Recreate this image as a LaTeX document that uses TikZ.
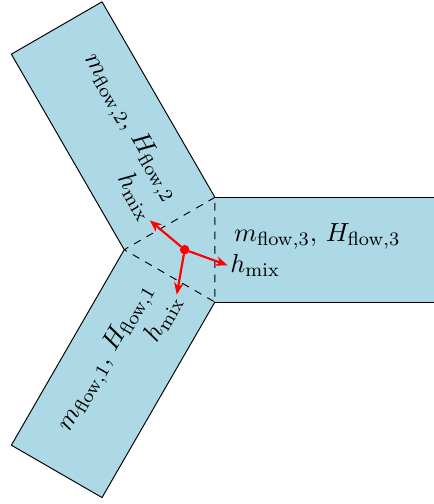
\documentclass[tikz,border=0pt,11pt]{standalone}
\usetikzlibrary{arrows.meta}
\definecolor{pipeblue}{RGB}{173,216,230}
\begin{document}
\begin{tikzpicture}[>={Stealth[length=5pt,width=4pt]}, line join=round, line cap=round,
	dot/.style={circle,fill=red,inner sep=0pt,minimum size=4pt},
	mix/.style={inner sep=1pt},
	arrow/.style={->,red,line width=0.9pt}]
	\def\w{1.54} \def\len{3.32} % width and length of a pipe
	\pgfmathsetmacro\r{\w/(2*sqrt(3))}
	\pgfmathsetmacro\R{\w/sqrt(3)}
	\clip (-2.716,-3.740) rectangle (3.666,3.672);
	% pipes
	\foreach \t in {0,120,240}
		\fill[pipeblue,rotate=\t] (\r,-\w/2) rectangle (\r+\len,\w/2);
	\fill[pipeblue] (60:\R) -- (180:\R) -- (300:\R) -- cycle;
	\foreach \t in {0,120,240}
		\draw[rotate=\t] (\r,\w/2) -- (\r+\len,\w/2) -- (\r+\len,-\w/2) -- (\r,-\w/2);
	\draw[dashed] (60:\R) -- (180:\R) -- (300:\R) -- cycle;
	% labels
	\node (flow3) at (1.95,0.2) {$m_{\mathrm{flow},3}$, $H_{\mathrm{flow},3}$};
	\node[rotate=-60] (flow2) at (-0.80,1.79) {$m_{\mathrm{flow},2}$, $H_{\mathrm{flow},2}$};
	\node[rotate=60] (flow1) at (-1.15,-1.59) {$m_{\mathrm{flow},1}$, $H_{\mathrm{flow},1}$};
	\node[mix,anchor=west] (mix3) at (-20:0.67) {$h_{\mathrm{mix}}$};
	\node[mix,anchor=east,rotate=-60] (mix2) at (140:0.67) {$h_{\mathrm{mix}}$};
	\node[mix,anchor=east,rotate=60] (mix1) at (260:0.67) {$h_{\mathrm{mix}}$};
	% mixing point
	\node[dot] (c) at (0,0) {};
	\draw[arrow] (c) -- (mix3.west);
	\draw[arrow] (c) -- (mix2.east);
	\draw[arrow] (c) -- (mix1.east);
\end{tikzpicture}
\end{document}
